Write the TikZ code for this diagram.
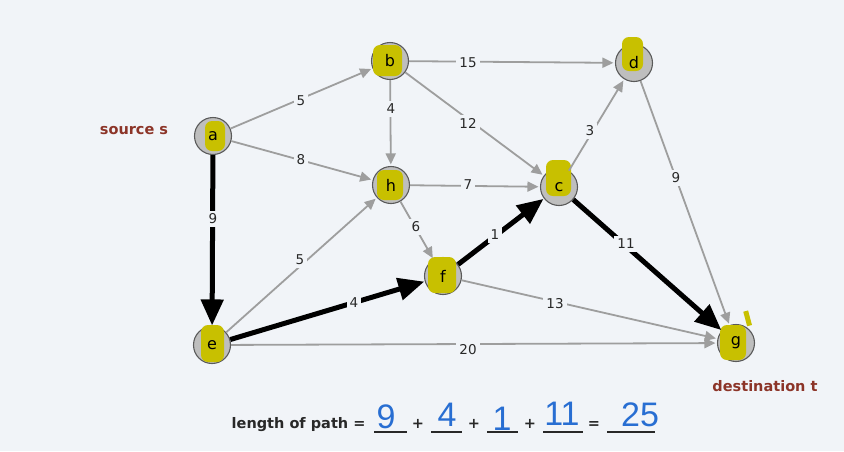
\documentclass[tikz,border=0pt]{standalone}
\usepackage{fontspec}
\setmainfont{DejaVu Sans}
\newfontfamily\handfont{Liberation Sans}
\usetikzlibrary{arrows.meta}
\definecolor{bg}{RGB}{241,244,248}
\definecolor{nodegray}{RGB}{190,190,190}
\definecolor{nodeline}{RGB}{90,90,90}
\definecolor{hl}{RGB}{200,192,0}
\definecolor{edgegray}{RGB}{158,158,158}
\definecolor{txt}{RGB}{40,40,40}
\definecolor{redlbl}{RGB}{140,52,40}
\definecolor{ink}{RGB}{40,110,210}
\newcommand{\vtx}[8]{%
  \node[vert] (#1) at (#2,#3) {};
  \begin{scope}[shift={(#2,#3)}]
    \fill[hl, rounded corners=7pt] (#5,#6) rectangle (#7,#8);
  \end{scope}
  \node[vlabel] (#1-t) at (#2,#3) {#4};
}
\begin{document}
\begin{tikzpicture}[x=1pt,y=-1pt,
  vert/.style={circle, draw=nodeline, fill=nodegray, line width=1.1pt, minimum size=37pt, inner sep=0pt},
  vlabel/.style={font=\fontsize{16}{16}\selectfont, text=black, inner sep=0pt},
  edge/.style={draw=edgegray, line width=1.8pt, -{Triangle[length=11pt,width=10pt]}, shorten >=1.5pt},
  bold edge/.style={draw=black, line width=5pt, -{Triangle[length=26pt,width=22pt]}, shorten >=0.5pt},
  wlbl/.style={fill=bg, text=txt, font=\fontsize{13.5}{13.5}\selectfont, inner sep=3pt},
  side/.style={text=redlbl, font=\bfseries\fontsize{14.5}{14.5}\selectfont},
  eqtxt/.style={text=txt, font=\bfseries\fontsize{14.5}{14.5}\selectfont, anchor=base},
  hand/.style={text=ink, font=\handfont\fontsize{34}{34}\selectfont, anchor=base},
  blank/.style={draw=txt, line width=1.2pt}
]
\fill[bg] (0,0) rectangle (844,451);
\useasboundingbox (0,0) rectangle (844,451);

% vertices
\vtx{a}{213}{136}{a}{-8}{-15}{12}{15}
\vtx{b}{390}{61}{b}{-17}{-16}{12}{15}
\vtx{d}{634}{63}{d}{-12}{-26}{9}{8}
\vtx{h}{391}{185}{h}{-14}{-15}{12}{15}
\vtx{c}{559}{187}{c}{-13}{-27}{12}{9}
\vtx{f}{443}{276}{f}{-15}{-19}{13}{17}
\vtx{e}{212}{345}{e}{-11}{-20}{12}{17}
\vtx{g}{736}{343}{g}{-16}{-18}{10}{17}
\fill[hl, rotate around={15:(747,318)}] (745,311) rectangle (750,326);

% gray edges
\draw[edge] (a) -- (b);
\draw[edge] (a) -- (h);
\draw[edge] (b) -- (d);
\draw[edge] (b) -- (h);
\draw[edge] (b) -- (c);
\draw[edge] (c) -- (d);
\draw[edge] (d) -- (g);
\draw[edge] (h) -- (c);
\draw[edge] (h) -- (f);
\draw[edge] (e) -- (h);
\draw[edge] (f) -- (g);
\draw[edge] (e) -- (g);

% shortest path
\draw[bold edge] (a) -- (e);
\draw[bold edge] (e) -- (f);
\draw[bold edge] (f) -- (c);
\draw[bold edge] (c) -- (g);

% weights
\node[wlbl] (w-ab) at (301,101) {5};
\node[wlbl] (w-ah) at (301,160) {8};
\node[wlbl] (w-ae) at (213,219) {9};
\node[wlbl] (w-bd) at (468,63) {15};
\node[wlbl] (w-bh) at (391,109) {4};
\node[wlbl] (w-bc) at (468,123) {12};
\node[wlbl] (w-cd) at (590,131) {3};
\node[wlbl] (w-dg) at (676,178) {9};
\node[wlbl] (w-hc) at (468,185) {7};
\node[wlbl] (w-hf) at (416,227) {6};
\node[wlbl] (w-eh) at (300,260) {5};
\node[wlbl] (w-ef) at (354,303) {4};
\node[wlbl] (w-fc) at (495,235) {1};
\node[wlbl] (w-cg) at (626,244) {11};
\node[wlbl] (w-fg) at (555,304) {13};
\node[wlbl] (w-eg) at (468,350) {20};

% side labels
\node[side] (src) at (134,131) {source s};
\node[side] (dst) at (765,386) {destination t};

% equation
\node[eqtxt, anchor=base east] (eq0) at (369,428) {length of path =};
\draw[blank] (374,432) -- (407,432);
\node[eqtxt] (p1) at (418,428) {+};
\draw[blank] (431,432) -- (462,432);
\node[eqtxt] (p2) at (474,428) {+};
\draw[blank] (487,432) -- (518,432);
\node[eqtxt] (p3) at (530,428) {+};
\draw[blank] (543,432) -- (583,432);
\node[eqtxt] (p4) at (594,428) {=};
\draw[blank] (607,432) -- (655,432);

\node[hand] (h1) at (386,428) {9};
\node[hand] (h2) at (447,426) {4};
\node[hand] (h3) at (502,430) {1};
\node[hand] (h4) at (562,425) {11};
\node[hand] (h5) at (640,426) {25};
\end{tikzpicture}
\end{document}
